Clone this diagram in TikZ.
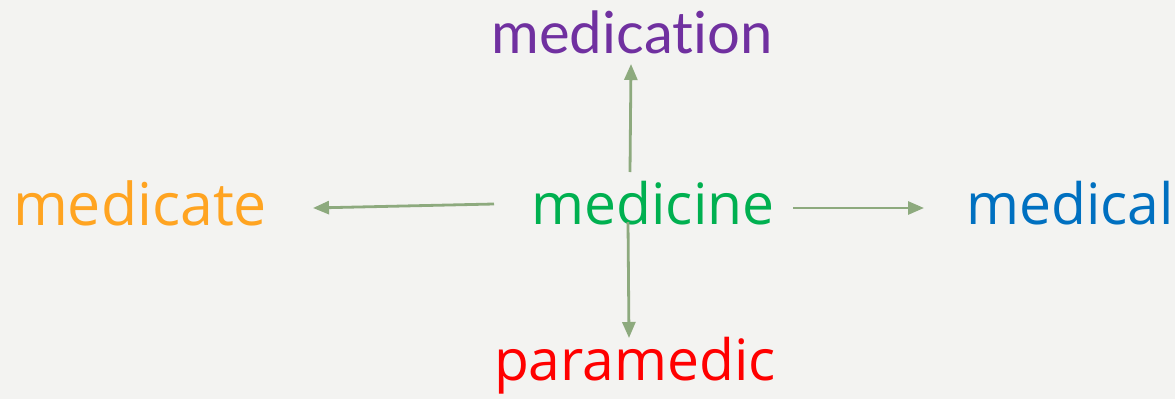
\documentclass[tikz,border=0pt]{standalone}
\usepackage{fontspec}
\setmainfont{Open Sans}
\newfontfamily\gillfont[Ligatures={NoCommon,NoRare,NoDiscretionary}]{Lato}
\usetikzlibrary{arrows.meta}
\definecolor{bg}{HTML}{F3F3F1}
\definecolor{arr}{HTML}{8DAA7E}
\definecolor{cpurple}{HTML}{7030A0}
\definecolor{corange}{HTML}{FFA421}
\definecolor{cgreen}{HTML}{00B050}
\definecolor{cblue}{HTML}{0070C0}
\definecolor{cred}{HTML}{FF0000}
\tikzset{
  word/.style={inner sep=0pt, font=\fontsize{57}{57}\selectfont},
  link/.style={draw=arr, line width=2.8pt, -{Triangle[length=16pt,width=13pt]}}
}
\begin{document}
\begin{tikzpicture}[x=1pt,y=-1pt]
\fill[bg] (0,0) rectangle (1175,399);
\useasboundingbox (0,0) rectangle (1175,399);
\node[word, text=cpurple, font=\gillfont\fontsize{58}{58}\selectfont] (medication) at (632,32) {medication};
\node[word, text=corange, font=\fontsize{59}{59}\selectfont] (medicate) at (140,203) {medicate};
\node[word, text=cgreen] (medicine) at (653,203) {medicine};
\node[word, text=cblue] (medical) at (1070,203) {medical};
\node[word, text=cred] (paramedic) at (635,366) {paramedic};
\coordinate (up0) at (630,172);
\coordinate (up1) at (631,64);
\coordinate (lf0) at (494,204);
\coordinate (lf1) at (313,208);
\coordinate (rt0) at (793,208);
\coordinate (rt1) at (924,208);
\coordinate (dn0) at (628,222);
\coordinate (dn1) at (629,338);
\draw[link] (up0) -- (up1);
\draw[link] (lf0) -- (lf1);
\draw[link] (rt0) -- (rt1);
\draw[link] (dn0) -- (dn1);
\end{tikzpicture}
\end{document}
